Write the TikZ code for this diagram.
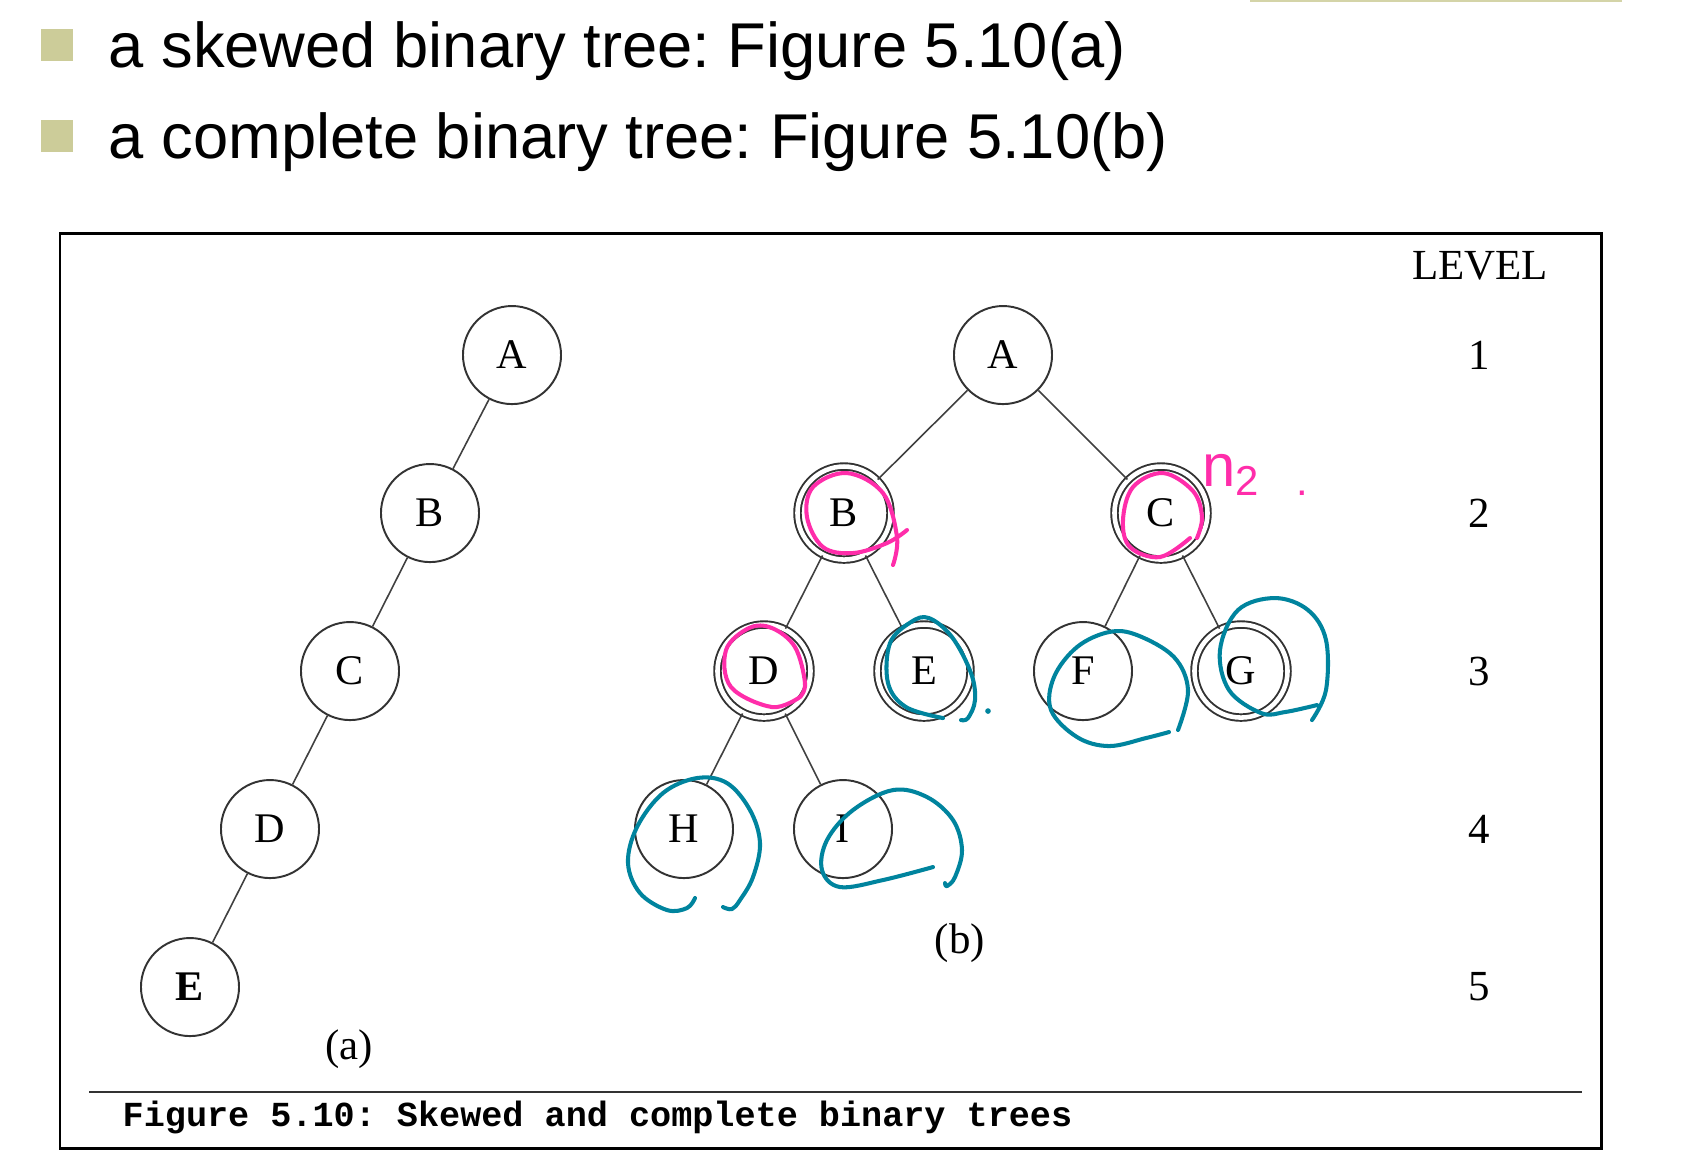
\documentclass[tikz,border=0pt]{standalone}
\usepackage{fontspec}
\setmainfont{Liberation Serif}
\setsansfont{Liberation Sans}
\setmonofont{Liberation Mono}
\frenchspacing
\definecolor{bullettan}{RGB}{204,204,153}
\definecolor{inkpink}{RGB}{255,45,170}
\definecolor{inkteal}{RGB}{0,132,158}

\begin{document}
\begin{tikzpicture}[
    x=0.01cm, y=-0.01cm,
    vertex/.style={circle, draw=black!80, line width=0.55pt, minimum size=9.8mm, inner sep=0pt, font=\fontsize{12}{14}\selectfont},
    ringvertex/.style={vertex, minimum size=9.3mm, double=white, double distance=1.3pt},
    branch/.style={draw=black!75, line width=0.45pt},
    lvltext/.style={inner sep=0pt, font=\fontsize{12.2}{14}\selectfont},
    bulletbox/.style={fill=bullettan, minimum size=3.2mm, inner sep=0pt},
    bullettext/.style={anchor=base west, inner sep=0pt, font=\sffamily\fontsize{18}{22}\selectfont},
    pinkpen/.style={inkpink, line width=1.15pt, line cap=round, line join=round},
    tealpen/.style={inkteal, line width=1.15pt, line cap=round, line join=round}
]
\fill[white] (0,0) rectangle (1699,1156);
\draw[bullettan!85, line width=0.6pt] (1250,1) -- (1622,1);

% bullet lines
\node[bulletbox] (sq1) at (57,45) {};
\node[bulletbox] (sq2) at (57,136) {};
\node[bullettext] (txt1) at (108,67) {a skewed binary tree: Figure 5.10(a)};
\node[bullettext] (txt2) at (108,158) {a complete binary tree: Figure 5.10(b)};

% figure frame
\draw[line width=0.85pt] (60,233) rectangle (1601,1148);
\draw[black!80, line width=0.8pt] (89,1092) -- (1582,1092);
\node[anchor=west, inner sep=0pt, font=\ttfamily\bfseries\fontsize{10}{12}\selectfont] (caption) at (122,1117) {Figure 5.10: Skewed and complete binary trees};

% (a) skewed tree
\node[vertex] (aA) at (512,355) {A};
\node[vertex] (aB) at (430,513) {B};
\node[vertex] (aC) at (350,671) {C};
\node[vertex] (aD) at (270,829) {D};
\node[vertex] (aE) at (190,987) {\textbf{E}};
\draw[branch] (aA) -- (aB);
\draw[branch] (aB) -- (aC);
\draw[branch] (aC) -- (aD);
\draw[branch] (aD) -- (aE);
\node[lvltext] (capa) at (349,1049) {(a)};

% (b) complete tree
\node[vertex] (bA) at (1003,355) {A};
\node[ringvertex] (bB) at (844,513) {B};
\node[ringvertex] (bC) at (1161,513) {C};
\node[ringvertex] (bD) at (764,671) {D};
\node[ringvertex] (bE) at (924,671) {E};
\node[vertex] (bF) at (1083,671) {F};
\node[ringvertex] (bG) at (1241,671) {G};
\node[vertex] (bH) at (684,829) {H};
\node[vertex] (bI) at (843,829) {I};
\draw[branch] (bA) -- (bB);
\draw[branch] (bA) -- (bC);
\draw[branch] (bB) -- (bD);
\draw[branch] (bB) -- (bE);
\draw[branch] (bC) -- (bF);
\draw[branch] (bC) -- (bG);
\draw[branch] (bD) -- (bH);
\draw[branch] (bD) -- (bI);
\node[lvltext] (capb) at (960,943) {(b)};

% level column
\node[lvltext] (lvl) at (1480,266) {LEVEL};
\node[lvltext] (lvl1) at (1479,355) {1};
\node[lvltext] (lvl2) at (1479,513) {2};
\node[lvltext] (lvl3) at (1479,671) {3};
\node[lvltext] (lvl4) at (1479,829) {4};
\node[lvltext] (lvl5) at (1479,987) {5};

% pen notes
\draw[pinkpen] plot[smooth, tension=0.6] coordinates {(893,565) (897,537) (883,493) (847,473) (813,487) (807,517) (823,547) (853,553) (887,543) (907,530)};
\draw[pinkpen] plot[smooth, tension=0.6] coordinates {(1190,538) (1160,557) (1130,547) (1123,520) (1133,487) (1163,473) (1193,491) (1202,517) (1197,538)};
\draw[pinkpen] plot[smooth, tension=0.6] coordinates {(800,697) (772,707) (731,687) (726,650) (749,628) (772,628) (795,647) (805,683) (800,697)};
\node[anchor=base west, inner sep=0pt, text=inkpink, font=\sffamily\fontsize{17}{19}\selectfont] (n2note) at (1202,486) {n\textsubscript{2\hspace{0.9em}.}};

\draw[tealpen] plot[smooth, tension=0.6] coordinates {(943,718) (906,707) (888,683) (890,643) (911,622) (929,618) (952,637) (971,673) (975,700) (968,718) (961,720)};
\fill[inkteal] (988,711) circle (0.8pt);
\draw[tealpen] plot[smooth, tension=0.6] coordinates {(1169,732) (1146,738) (1109,746) (1077,737) (1051,710) (1054,677) (1077,647) (1109,632) (1137,635) (1174,657) (1188,690) (1178,730)};
\draw[tealpen] plot[smooth, tension=0.6] coordinates {(1312,720) (1326,690) (1326,640) (1308,610) (1275,598) (1238,610) (1220,650) (1229,690) (1261,713) (1285,712) (1317,705)};
\draw[tealpen] plot[smooth, tension=0.6] coordinates {(695,898) (687,908) (667,910) (640,893) (628,863) (637,827) (663,793) (697,778) (727,783) (750,810) (760,843) (753,877) (740,900) (732,909) (723,907)};
\draw[tealpen] plot[smooth, tension=0.6] coordinates {(933,867) (883,880) (840,887) (822,870) (827,840) (853,810) (893,790) (927,797) (953,820) (962,850) (955,877) (947,886) (945,883)};
\end{tikzpicture}
\end{document}
